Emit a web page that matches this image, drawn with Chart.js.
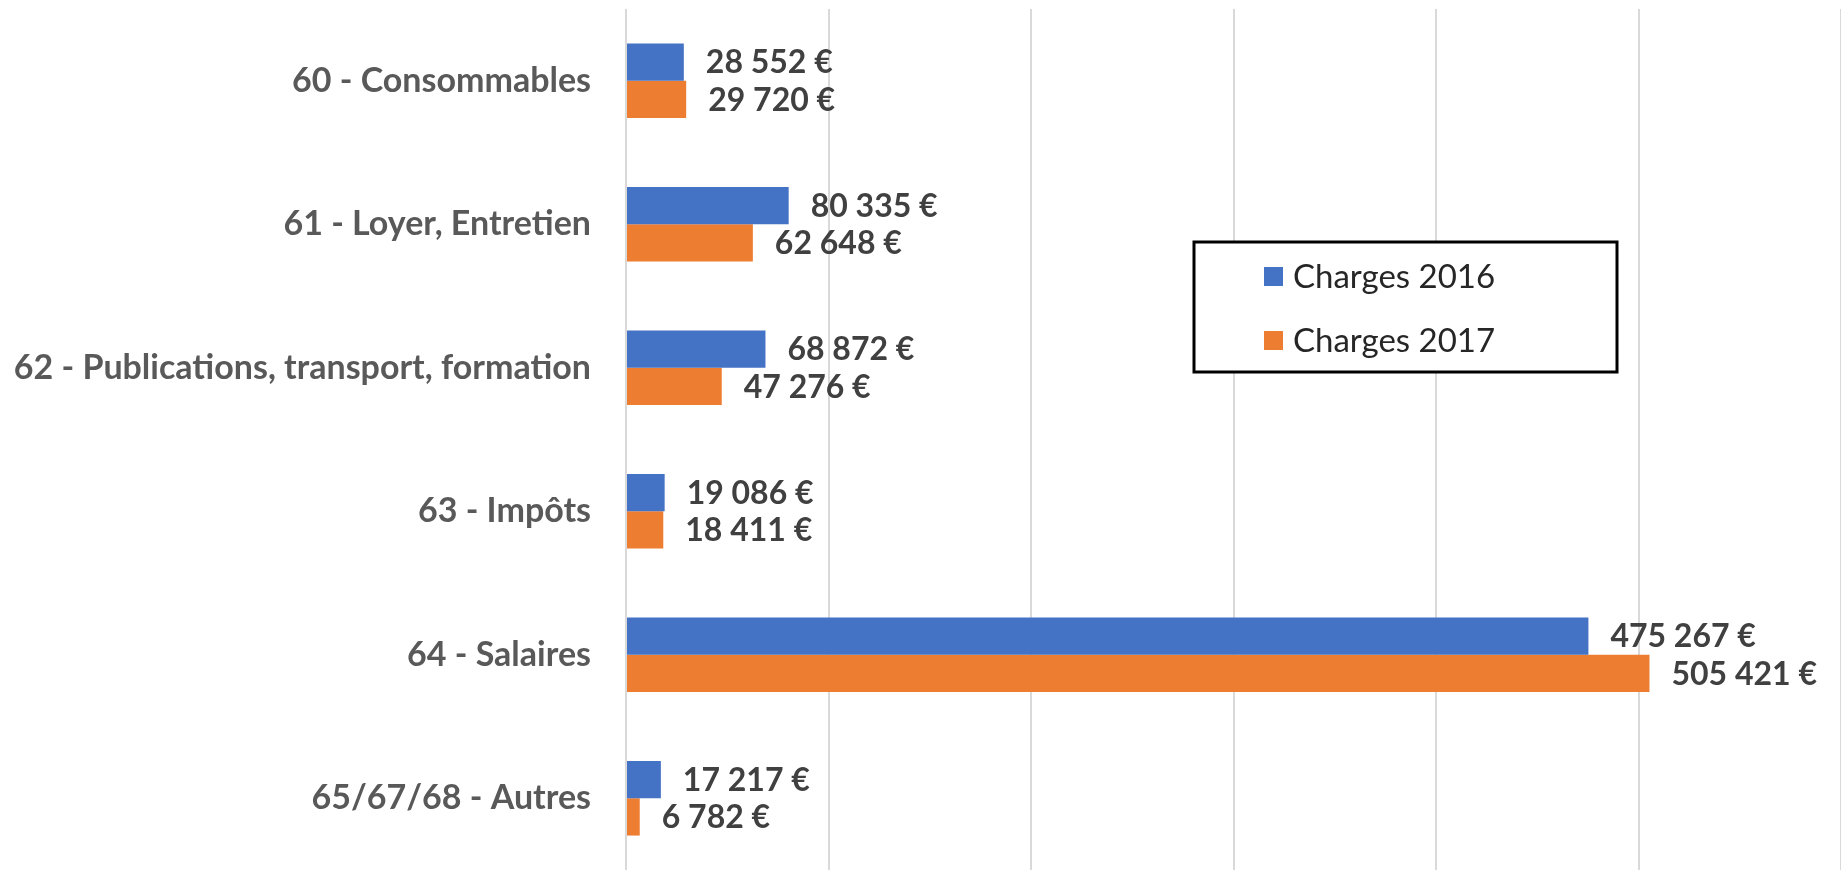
<!DOCTYPE html>
<html>
<head>
<meta charset="utf-8">
<script src="https://cdn.jsdelivr.net/npm/chart.js@4"></script>
<style>
  html, body { margin: 0; padding: 0; background: #fff; }
  #wrap { width: 1841px; height: 870px; }
</style>
</head>
<body>
<div id="wrap"><canvas id="chart"></canvas></div>
<script>
// Charges par poste, 2016 vs 2017
const categories = [
    '60 - Consommables',
    '61 - Loyer, Entretien',
    '62 - Publications, transport, formation',
    '63 - Impôts',
    '64 - Salaires',
    '65/67/68 - Autres'
];
const charges2016 = [28552, 80335, 68872, 19086, 475267, 17217];
const charges2017 = [29720, 62648, 47276, 18411, 505421, 6782];
const seriesNames = ['Charges 2016', 'Charges 2017'];
const xTicks = [0, 100000, 200000, 300000, 400000, 500000, 600000];

const fontFamily = 'Lato, "Open Sans", sans-serif';

function euro(v) {
    return v.toString().replace(/\B(?=(\d{3})+(?!\d))/g, ' ') + ' €';
}

// value labels drawn right after each bar end
const valueLabels = {
    id: 'valueLabels',
    afterDatasetsDraw(chart) {
        const ctx = chart.ctx;
        ctx.save();
        ctx.font = 'bold 32px ' + fontFamily;
        ctx.fillStyle = '#404040';
        ctx.textBaseline = 'middle';
        ctx.textAlign = 'left';
        chart.data.datasets.forEach((ds, di) => {
            const meta = chart.getDatasetMeta(di);
            meta.data.forEach((bar, i) => {
                ctx.fillText(euro(ds.data[i]), bar.x + 22, bar.y + 1);
            });
        });
        ctx.restore();
    }
};

// boxed legend sitting inside the plot
const boxLegend = {
    id: 'boxLegend',
    afterDraw(chart) {
        const ctx = chart.ctx;
        ctx.save();
        ctx.fillStyle = '#fff';
        ctx.fillRect(1194, 242, 423, 130);
        ctx.strokeStyle = '#000';
        ctx.lineWidth = 3;
        ctx.strokeRect(1194, 242, 423, 130);
        ctx.font = '33px ' + fontFamily;
        ctx.textBaseline = 'middle';
        chart.data.datasets.forEach((ds, i) => {
            const y = 276 + i * 64;
            ctx.fillStyle = ds.backgroundColor;
            ctx.fillRect(1264, y - 9, 19, 19);
            ctx.fillStyle = '#262626';
            ctx.fillText(ds.label, 1293, y + 1);
        });
        ctx.restore();
    }
};

new Chart(document.getElementById('chart'), {
    type: 'bar',
    data: {
        labels: categories,
        datasets: [
            { label: seriesNames[0], data: charges2016, backgroundColor: '#4472C4' },
            { label: seriesNames[1], data: charges2017, backgroundColor: '#ED7D31' }
        ]
    },
    options: {
        indexAxis: 'y',
        responsive: true,
        maintainAspectRatio: false,
        animation: false,
        layout: { padding: { top: 9, right: 0, bottom: 0, left: 0 } },
        datasets: {
            bar: { barPercentage: 1, categoryPercentage: 0.52 }
        },
        plugins: {
            legend: { display: false },
            tooltip: { enabled: false }
        },
        scales: {
            x: {
                min: xTicks[0],
                max: xTicks[xTicks.length - 1],
                afterBuildTicks(scale) { scale.ticks = xTicks.map(v => ({ value: v })); },
                afterFit(scale) {
                    scale.height = 0;
                    scale.paddingLeft = 0;
                    scale.paddingRight = 0;
                },
                ticks: { display: false },
                grid: { color: '#d9d9d9', lineWidth: 2, drawTicks: false },
                border: { display: false }
            },
            y: {
                afterFit(scale) {
                    scale.width = 626;
                    scale.paddingTop = 0;
                    scale.paddingBottom = 0;
                },
                grid: { display: false, drawTicks: false },
                border: { display: false },
                ticks: {
                    padding: 35,
                    color: '#595959',
                    font: { family: fontFamily, size: 34, weight: 'bold' }
                }
            }
        }
    },
    plugins: [valueLabels, boxLegend]
});
</script>
</body>
</html>
